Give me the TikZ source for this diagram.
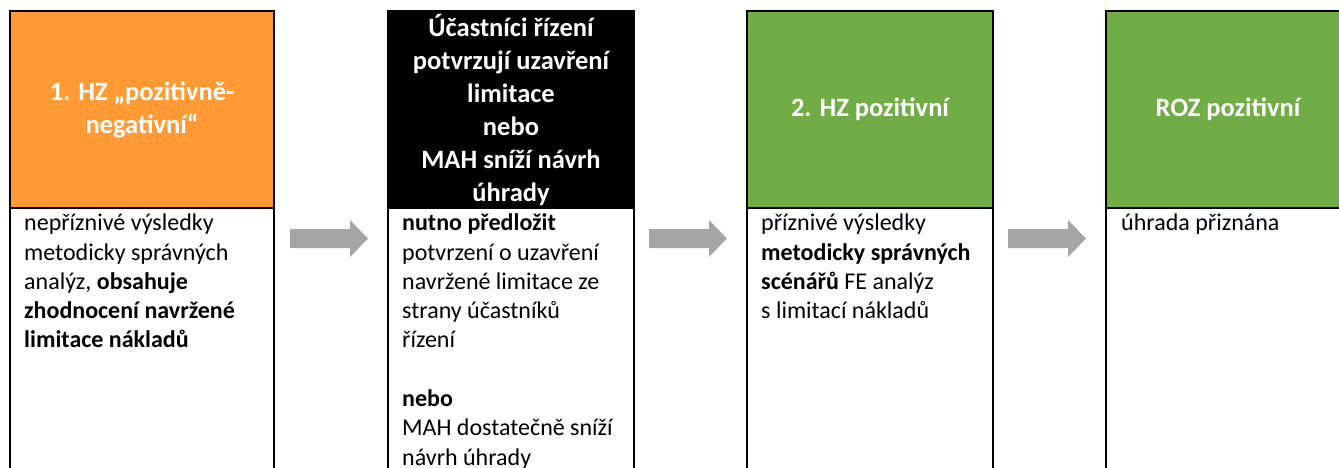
\documentclass[tikz,border=0pt]{standalone}
\usepackage{fontspec}
\setmainfont{Carlito}
\definecolor{hzorange}{HTML}{FF9A35}
\definecolor{hzgreen}{HTML}{70AD47}
\definecolor{arrowgray}{HTML}{A5A5A5}
\begin{document}
\begin{tikzpicture}[x=1pt,y=-1pt,
  hdr/.style={draw=black, line width=2pt, anchor=north west, inner sep=0pt,
    minimum height=197pt, text=white, align=center,
    font=\fontsize{26.5}{33}\selectfont\bfseries},
  bodybox/.style={draw=black, line width=2pt, fill=white, anchor=north west,
    inner sep=0pt, minimum height=290pt},
  bodytext/.style={anchor=north west, inner sep=0pt, align=left,
    font=\fontsize{24}{29.3}\selectfont},
  blockarrow/.style={fill=arrowgray, draw=none}
]
\useasboundingbox (0,0) rectangle (1339,467);
\clip (0,0) rectangle (1339,467);

% box 1
\node[bodybox, minimum width=264pt] (b1) at (9,207) {};
\node[hdr, fill=hzorange, minimum width=264pt] (h1) at (9,10)
  {1. HZ „pozitivně-\\negativní“};
\node[bodytext] (t1) at (24,210)
  {\strut nepříznivé výsledky\\metodicky správných\\analýz, \textbf{obsahuje}\\
   \textbf{zhodnocení navržené}\\\textbf{limitace nákladů}};

% box 2
\node[bodybox, minimum width=246pt] (b2) at (387,207) {};
\node[hdr, fill=black, minimum width=246pt] (h2) at (387,10)
  {Účastníci řízení\\potvrzují uzavření\\limitace\\nebo\\MAH sníží návrh\\úhrady};
\node[bodytext] (t2) at (402,210)
  {\strut\textbf{nutno předložit}\\potvrzení o uzavření\\navržené limitace ze\\
   strany účastníků\\řízení\\[29.3pt]\textbf{nebo}\\MAH dostatečně sníží\\návrh úhrady};

% box 3
\node[bodybox, minimum width=246pt] (b3) at (746,207) {};
\node[hdr, fill=hzgreen, minimum width=246pt] (h3) at (746,10)
  {2. HZ pozitivní};
\node[bodytext] (t3) at (761,210)
  {\strut příznivé výsledky\\\textbf{metodicky správných}\\\textbf{scénářů} FE analýz\\
   s~limitací nákladů};

% box 4
\node[bodybox, minimum width=244pt] (b4) at (1105,207) {};
\node[hdr, fill=hzgreen, minimum width=244pt] (h4) at (1105,10)
  {ROZ pozitivní};
\node[bodytext] (t4) at (1121,210) {\strut úhrada přiznána};

% block arrows
\fill[blockarrow] (290,229) -- (350,229) -- (350,220) -- (368,238.5)
  -- (350,257) -- (350,248) -- (290,248) -- cycle;
\fill[blockarrow] (649,229) -- (709,229) -- (709,220) -- (727,238.5)
  -- (709,257) -- (709,248) -- (649,248) -- cycle;
\fill[blockarrow] (1008,229) -- (1068,229) -- (1068,220) -- (1086,238.5)
  -- (1068,257) -- (1068,248) -- (1008,248) -- cycle;
\end{tikzpicture}
\end{document}
